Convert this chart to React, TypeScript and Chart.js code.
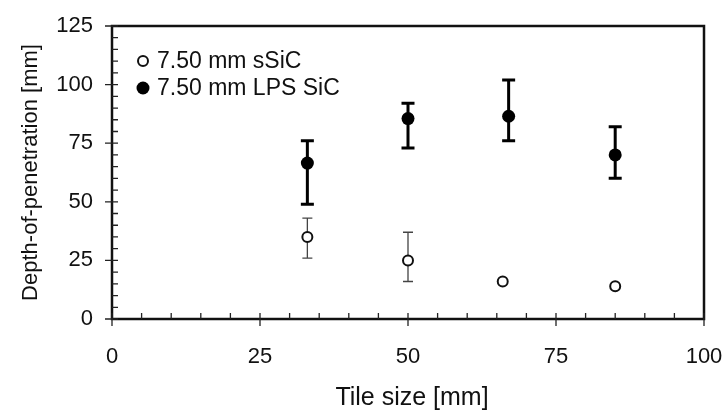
import React, { useEffect, useRef } from "react";
import { Chart, registerables } from "chart.js";

Chart.register(...registerables);

// ---- data ----
const tileSizeSSiC = [33, 50, 66, 85];
const depthSSiC = [35, 25, 16, 14];
const errLowSSiC: (number | null)[] = [26, 16, null, null];
const errHighSSiC: (number | null)[] = [43, 37, null, null];

const tileSizeLPS = [33, 50, 67, 85];
const depthLPS = [66.5, 85.5, 86.5, 70];
const errLowLPS: (number | null)[] = [49, 73, 76, 60];
const errHighLPS: (number | null)[] = [76, 92, 102, 82];

const xTickValues = [0, 25, 50, 75, 100];
const yTickValues = [0, 25, 50, 75, 100, 125];
const seriesLabels = ["7.50 mm sSiC", "7.50 mm LPS SiC"];
const xTitle = "Tile size [mm]";
const yTitle = "Depth-of-penetration [mm]";

const FONT = '"Liberation Sans", Arial, Helvetica, sans-serif';
const INK = "#111";

const decorations = {
  id: "decorations",
  beforeDatasetsDraw(chart: any) {
    const { ctx, scales } = chart;
    const xs = scales.x;
    const ys = scales.y;
    ctx.save();
    const bars = (
      xv: number[],
      lo: (number | null)[],
      hi: (number | null)[],
      color: string,
      lw: number,
      cap: number
    ) => {
      ctx.strokeStyle = color;
      ctx.lineWidth = lw;
      ctx.lineCap = "butt";
      xv.forEach((xx, i) => {
        const l = lo[i];
        const h = hi[i];
        if (l == null || h == null) return;
        const px = xs.getPixelForValue(xx);
        const pl = ys.getPixelForValue(l);
        const ph = ys.getPixelForValue(h);
        ctx.beginPath();
        ctx.moveTo(px, pl);
        ctx.lineTo(px, ph);
        ctx.moveTo(px - cap, pl);
        ctx.lineTo(px + cap, pl);
        ctx.moveTo(px - cap, ph);
        ctx.lineTo(px + cap, ph);
        ctx.stroke();
      });
    };
    bars(tileSizeSSiC, errLowSSiC, errHighSSiC, "#444", 1.3, 5);
    bars(tileSizeLPS, errLowLPS, errHighLPS, "#000", 3, 6.5);
    ctx.restore();
  },
  afterDraw(chart: any) {
    const { ctx, chartArea: a, scales } = chart;
    const xs = scales.x;
    const ys = scales.y;
    ctx.save();
    // frame
    ctx.strokeStyle = INK;
    ctx.lineWidth = 2.5;
    ctx.strokeRect(a.left, a.top, a.right - a.left, a.bottom - a.top);
    // ticks
    ctx.lineWidth = 1.3;
    ctx.strokeStyle = "#222";
    ctx.beginPath();
    for (let v = 0; v <= 125; v += 5) {
      const py = ys.getPixelForValue(v);
      ctx.moveTo(a.left, py);
      ctx.lineTo(a.left + 6, py);
      if (v % 25 === 0) {
        ctx.moveTo(a.left - 7, py);
        ctx.lineTo(a.left, py);
      }
    }
    for (let v = 0; v <= 100; v += 5) {
      const px = xs.getPixelForValue(v);
      ctx.moveTo(px, a.bottom);
      ctx.lineTo(px, a.bottom - 6);
      if (v % 25 === 0) {
        ctx.moveTo(px, a.bottom);
        ctx.lineTo(px, a.bottom + 7);
      }
    }
    ctx.stroke();

    // legend
    const lx = a.left + 31;
    const ly1 = a.top + 35;
    const ly2 = a.top + 62;
    ctx.beginPath();
    ctx.arc(lx, ly1, 5, 0, Math.PI * 2);
    ctx.fillStyle = "#fff";
    ctx.fill();
    ctx.lineWidth = 2;
    ctx.strokeStyle = INK;
    ctx.stroke();
    ctx.beginPath();
    ctx.arc(lx, ly2, 6.5, 0, Math.PI * 2);
    ctx.fillStyle = "#000";
    ctx.fill();
    ctx.fillStyle = INK;
    ctx.font = `23px ${FONT}`;
    ctx.textAlign = "left";
    ctx.textBaseline = "middle";
    ctx.fillText(seriesLabels[0], lx + 14, ly1 + 1);
    ctx.fillText(seriesLabels[1], lx + 14, ly2 + 1);

    // axis titles
    ctx.font = `25px ${FONT}`;
    ctx.textAlign = "center";
    ctx.textBaseline = "alphabetic";
    ctx.fillText(xTitle, 412, 405);
    ctx.save();
    ctx.translate(37, (a.top + a.bottom) / 2);
    ctx.rotate(-Math.PI / 2);
    ctx.font = `22px ${FONT}`;
    ctx.fillText(yTitle, 0, 0);
    ctx.restore();

    ctx.restore();
  },
};

export default function App() {
  const ref = useRef<HTMLCanvasElement | null>(null);
  useEffect(() => {
    if (!ref.current) return;
    const chart = new Chart(ref.current, {
      type: "scatter",
      data: {
        datasets: [
          {
            label: seriesLabels[0],
            data: tileSizeSSiC.map((x, i) => ({ x, y: depthSSiC[i] })),
            pointStyle: "circle",
            pointRadius: 5,
            pointBackgroundColor: "#fff",
            pointBorderColor: INK,
            pointBorderWidth: 2,
            showLine: false,
          },
          {
            label: seriesLabels[1],
            data: tileSizeLPS.map((x, i) => ({ x, y: depthLPS[i] })),
            pointStyle: "circle",
            pointRadius: 6.5,
            pointBackgroundColor: "#000",
            pointBorderColor: "#000",
            pointBorderWidth: 0,
            showLine: false,
          },
        ],
      },
      options: {
        animation: false,
        responsive: false,
        devicePixelRatio: 1,
        layout: { padding: { left: 0, top: 26, right: 22, bottom: 0 } },
        plugins: {
          legend: { display: false },
          tooltip: { enabled: false },
        },
        scales: {
          x: {
            type: "linear",
            min: 0,
            max: 100,
            afterBuildTicks: (s: any) => {
              s.ticks = xTickValues.map((v) => ({ value: v }));
            },
            afterFit: (s: any) => {
              s.height = 93;
              s.paddingLeft = 0;
              s.paddingRight = 0;
              s.paddingTop = 0;
              s.paddingBottom = 0;
            },
            grid: { display: false, drawTicks: false },
            border: { display: false },
            ticks: {
              padding: 25,
              color: INK,
              font: { family: FONT, size: 22 },
              maxRotation: 0,
            },
          },
          y: {
            type: "linear",
            min: 0,
            max: 125,
            afterBuildTicks: (s: any) => {
              s.ticks = yTickValues.map((v) => ({ value: v }));
            },
            afterFit: (s: any) => {
              s.width = 112;
              s.paddingLeft = 0;
              s.paddingRight = 0;
              s.paddingTop = 0;
              s.paddingBottom = 0;
            },
            grid: { display: false, drawTicks: false },
            border: { display: false },
            ticks: {
              padding: 19,
              color: INK,
              font: { family: FONT, size: 22 },
            },
          },
        },
      },
      plugins: [decorations],
    });
    return () => chart.destroy();
  }, []);
  return (
    <div style={{ position: "fixed", left: 0, top: 0, width: 726, height: 412, background: "#fff" }}>
      <canvas ref={ref} width={726} height={412} />
    </div>
  );
}
